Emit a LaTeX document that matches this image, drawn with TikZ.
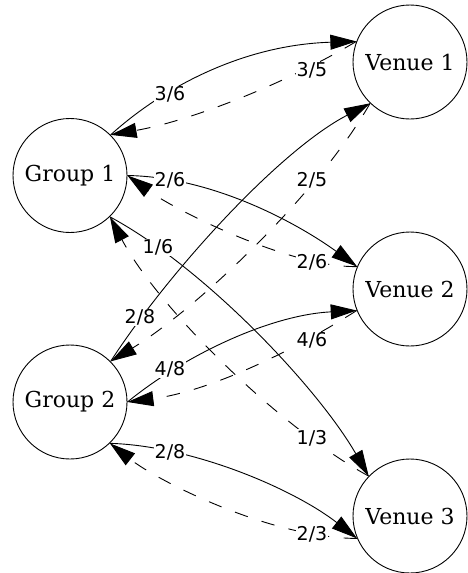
\documentclass[tikz,border=0pt]{standalone}
\usepackage{fontspec}
\setmainfont{DejaVu Serif}
\newfontfamily\lblfont{DejaVu Sans}
\usetikzlibrary{arrows.meta}

\tikzset{
  place/.style={circle, draw, line width=0.9pt, minimum size=114pt, inner sep=0pt,
                font=\fontsize{22}{26}\selectfont},
  link/.style={line width=0.9pt, -{Triangle[length=26pt,width=15pt]}},
  backlink/.style={link, dash pattern=on 13.5pt off 14.5pt},
  share/.style={fill=white, inner sep=1pt, font=\lblfont\fontsize{19}{22}\selectfont}
}

\begin{document}
\begin{tikzpicture}[x=1pt, y=-1pt]
\useasboundingbox (0,0) rectangle (468,573);

% groups on the left, venues on the right
\node[place] (G1) at (70,175.5) {Group 1};
\node[place] (G2) at (70,402)   {Group 2};
\node[place] (V1) at (410,62)   {Venue 1};
\node[place] (V2) at (410,289)  {Venue 2};
\node[place] (V3) at (410,516)  {Venue 3};

% Group 1 <-> venues
\draw[link]     (G1.45)  .. controls (160,90)  and (240,45)  .. (V1.159);
\draw[backlink] (V1.159) .. controls (285,84)  and (190,121) .. (G1.45);
\draw[link]     (G1.0)   .. controls (215,177) and (300,225) .. (V2.157);
\draw[backlink] (V2.157) .. controls (290,268) and (175,210) .. (G1.0);
\draw[link]     (G1.-46) .. controls (205,268) and (318,388) .. (V3.136);
\draw[backlink] (V3.136) .. controls (280,428) and (158,308) .. (G1.-46);

% Group 2 <-> venues
\draw[link]     (G2.45)  .. controls (170,270) and (280,150) .. (V1.226);
\draw[backlink] (V1.226) .. controls (318,195) and (195,310) .. (G2.45);
\draw[link]     (G2.0)   .. controls (185,355) and (270,315) .. (V2.202);
\draw[backlink] (V2.202) .. controls (285,356) and (205,392) .. (G2.0);
\draw[link]     (G2.-46) .. controls (195,446) and (295,490) .. (V3.203);
\draw[backlink] (V3.203) .. controls (270,538) and (158,481) .. (G2.-46);

% shares written at the tail of each connector
\node[share] (s1)  at (170,94.5)  {3/6};
\node[share] (s2)  at (312,70.5)  {3/5};
\node[share] (s3)  at (170,180)   {2/6};
\node[share] (s4)  at (312,262.5) {2/6};
\node[share] (s5)  at (158,247.5) {1/6};
\node[share] (s6)  at (312,438)   {1/3};
\node[share] (s7)  at (140,317.5) {2/8};
\node[share] (s8)  at (312,180.5) {2/5};
\node[share] (s9)  at (170,369.5) {4/8};
\node[share] (s10) at (312,340.5) {4/6};
\node[share] (s11) at (170,452.5) {2/8};
\node[share] (s12) at (312,534.5) {2/3};
\end{tikzpicture}
\end{document}
